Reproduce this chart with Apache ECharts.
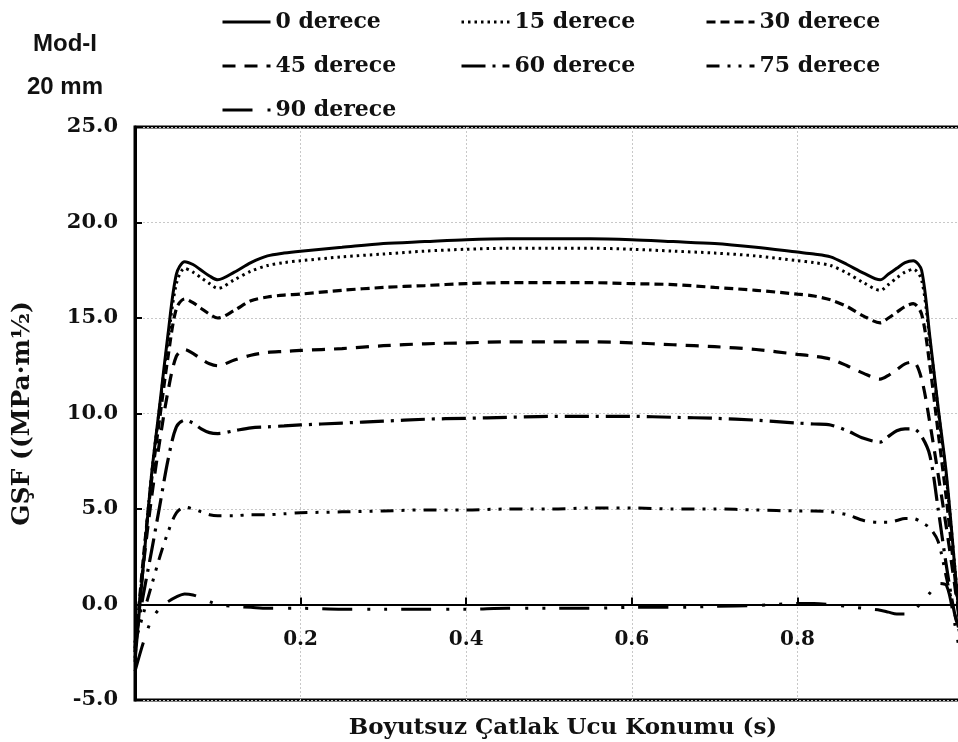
<!DOCTYPE html>
<html>
<head>
<meta charset="utf-8">
<script src="https://cdn.jsdelivr.net/npm/echarts@6/dist/echarts.min.js"></script>
<style>
  html, body { margin: 0; padding: 0; background: #fff; }
  #chart { width: 958px; height: 742px; }
</style>
</head>
<body>
<div id="chart"></div>
<script>
// Dimensionless crack-tip position along the front
const sValues = [0, 0.01, 0.02, 0.03, 0.04, 0.05, 0.06, 0.07, 0.08, 0.09, 0.10, 0.12, 0.14, 0.16, 0.18, 0.20,
  0.25, 0.30, 0.35, 0.40, 0.45, 0.50, 0.55, 0.60, 0.65, 0.70, 0.75, 0.80, 0.82, 0.84, 0.86, 0.88, 0.90,
  0.91, 0.92, 0.93, 0.94, 0.95, 0.96, 0.97, 0.98, 0.99, 1.0];

// Stress intensity factor (MPa·m^1/2) for each crack angle
const deg0 = [-3.0, 2.0, 6.8, 10.5, 14.2, 17.3, 17.95, 17.8, 17.5, 17.2, 17.0, 17.4, 17.9, 18.25, 18.4, 18.5,
  18.7, 18.9, 19.0, 19.1, 19.15, 19.15, 19.15, 19.1, 19.0, 18.9, 18.7, 18.45, 18.35, 18.2, 17.8, 17.35, 17.0,
  17.3, 17.6, 17.9, 18.0, 17.5, 14.0, 10.3, 6.8, 2.0, -3.0];
const deg15 = [-2.8, 2.2, 6.8, 10.4, 13.9, 16.8, 17.6, 17.4, 17.1, 16.8, 16.55, 17.0, 17.45, 17.75, 17.9, 18.0,
  18.2, 18.35, 18.5, 18.6, 18.65, 18.65, 18.65, 18.6, 18.5, 18.4, 18.25, 18.0, 17.9, 17.75, 17.35, 16.85, 16.45,
  16.75, 17.1, 17.4, 17.55, 17.0, 13.8, 10.2, 6.6, 2.0, -2.8];
const deg30 = [-2.5, 2.4, 6.5, 9.8, 13.0, 15.5, 16.0, 15.8, 15.5, 15.2, 15.0, 15.4, 15.9, 16.1, 16.2, 16.25,
  16.45, 16.6, 16.7, 16.8, 16.85, 16.85, 16.85, 16.8, 16.75, 16.6, 16.45, 16.25, 16.15, 15.95, 15.6, 15.1, 14.75,
  15.0, 15.3, 15.6, 15.75, 15.2, 12.5, 9.0, 5.5, 1.5, -2.5];
const deg45 = [-2.3, 2.0, 5.6, 8.6, 11.2, 13.0, 13.35, 13.15, 12.85, 12.6, 12.5, 12.8, 13.05, 13.2, 13.25, 13.3,
  13.4, 13.55, 13.65, 13.7, 13.75, 13.75, 13.75, 13.7, 13.6, 13.5, 13.35, 13.1, 13.0, 12.85, 12.5, 12.1, 11.8,
  12.0, 12.3, 12.6, 12.7, 11.8, 9.5, 6.8, 4.0, 1.0, -2.3];
const deg60 = [-2.0, 0.5, 2.8, 5.2, 7.6, 9.3, 9.65, 9.5, 9.2, 9.0, 8.95, 9.1, 9.25, 9.3, 9.35, 9.4,
  9.5, 9.6, 9.7, 9.75, 9.8, 9.85, 9.85, 9.85, 9.8, 9.75, 9.65, 9.5, 9.45, 9.4, 9.1, 8.7, 8.5,
  8.8, 9.1, 9.2, 9.2, 8.8, 7.8, 5.0, 2.0, -0.5, -2.0];
const deg75 = [-2.0, -0.5, 1.0, 2.5, 3.8, 4.8, 5.1, 5.0, 4.85, 4.7, 4.65, 4.65, 4.7, 4.7, 4.75, 4.8,
  4.85, 4.9, 4.95, 4.95, 5.0, 5.0, 5.05, 5.05, 5.0, 5.0, 4.95, 4.9, 4.9, 4.85, 4.7, 4.4, 4.3,
  4.3, 4.4, 4.5, 4.5, 4.3, 4.0, 3.3, 1.4, -0.5, -2.0];
const deg90 = [-3.5, -2.0, -0.8, -0.2, 0.15, 0.4, 0.55, 0.5, 0.35, 0.15, 0.0, -0.1, -0.15, -0.2, -0.2, -0.2,
  -0.25, -0.25, -0.25, -0.25, -0.2, -0.2, -0.2, -0.15, -0.15, -0.1, -0.05, 0.05, 0.05, 0.0, -0.1, -0.2, -0.3,
  -0.4, -0.5, -0.5, -0.3, 0.1, 0.6, 1.1, 1.0, -1.0, -3.5];

const seriesNames = ['0 derece', '15 derece', '30 derece', '45 derece', '60 derece', '75 derece', '90 derece'];
const seriesValues = [deg0, deg15, deg30, deg45, deg60, deg75, deg90];

// y-axis tick range
const yMin = -5, yMax = 25, yStep = 5;
const xTicks = [0.2, 0.4, 0.6, 0.8];

const serif = 'DejaVu Serif';
const dashes = [
  'solid',
  [2.5, 4],
  [9, 5],
  [13, 9],
  [24, 7, 3, 7],
  [13, 8, 3, 8, 3, 8],
  [30, 15, 3, 14, 3, 14]
];
const widths = [3, 3, 3.2, 3.2, 3.2, 3, 3];

const series = seriesNames.map((name, k) => ({
  name: name,
  type: 'line',
  smooth: 0.3,
  symbol: 'none',
  clip: true,
  data: sValues.map((s, i) => [s, seriesValues[k][i]]),
  lineStyle: { color: '#000', width: widths[k], type: dashes[k], cap: 'butt' },
  itemStyle: { color: '#000' },
  z: 10 - k
}));

const legendBase = {
  orient: 'vertical',
  top: 5,
  itemWidth: 48,
  itemHeight: 14,
  itemGap: 20,
  textStyle: { fontFamily: serif, fontWeight: 'bold', fontSize: 22, color: '#111', lineHeight: 24 },
  itemStyle: { opacity: 0 },
  lineStyle: { width: 3 }
};

const chart = echarts.init(document.getElementById('chart'), null, { renderer: 'canvas' });
chart.setOption({
  animation: false,
  backgroundColor: '#fff',
  title: {
    text: 'Mod-I\n20 mm',
    left: 60,
    top: 18,
    textAlign: 'center',
    textStyle: { fontFamily: 'Liberation Sans', fontWeight: 'bold', fontSize: 24, lineHeight: 43, color: '#111' }
  },
  legend: [
    Object.assign({}, legendBase, { left: 216, data: ['0 derece', '45 derece', '90 derece'] }),
    Object.assign({}, legendBase, { left: 455, data: ['15 derece', '60 derece'] }),
    Object.assign({}, legendBase, { left: 700, data: ['30 derece', '75 derece'] })
  ],
  grid: {
    left: 135, top: 127, right: -5, bottom: 42,
    outerBoundsMode: 'none',
    containLabel: false,
    show: true, borderColor: '#000', borderWidth: 3, backgroundColor: 'transparent'
  },
  xAxis: {
    type: 'value',
    min: 0, max: 1, interval: 0.2,
    name: 'Boyutsuz Çatlak Ucu Konumu (s)',
    nameLocation: 'middle',
    nameGap: 112,
    nameTextStyle: { fontFamily: serif, fontWeight: 'bold', fontSize: 23, color: '#111', padding: [0, 0, 0, 28] },
    axisLine: { show: true, onZero: false, lineStyle: { color: '#000', width: 2 } },
    axisTick: { show: true, inside: true, length: 7, lineStyle: { color: '#000', width: 2 } },
    axisLabel: {
      margin: 25,
      fontFamily: serif, fontWeight: 'bold', fontSize: 20, color: '#111',
      formatter: v => xTicks.some(t => Math.abs(t - v) < 1e-9) ? v.toFixed(1) : ''
    },
    splitLine: { show: true, lineStyle: { color: '#c8c8c8', type: [2, 2], width: 1 } }
  },
  yAxis: {
    type: 'value',
    min: yMin, max: yMax, interval: yStep,
    name: 'GŞF ((MPa·m½)',
    nameLocation: 'middle',
    nameGap: 100,
    nameRotate: 90,
    nameTextStyle: { fontFamily: serif, fontWeight: 'bold', fontSize: 25, color: '#111' },
    axisLine: { show: true, onZero: false, lineStyle: { color: '#000', width: 3 } },
    axisTick: { show: true, inside: true, length: 7, lineStyle: { color: '#000', width: 2 } },
    axisLabel: {
      margin: 17,
      fontFamily: serif, fontWeight: 'bold', fontSize: 21, color: '#111',
      formatter: v => v.toFixed(1)
    },
    splitLine: { show: true, lineStyle: { color: '#c8c8c8', type: [2, 2], width: 1 } }
  },
  series: series
});

// Lift the x axis (line, ticks, labels, name) from the bottom edge to the y = 0 level
const zeroY = chart.convertToPixel({ yAxisIndex: 0 }, 0);
const bottomY = chart.convertToPixel({ yAxisIndex: 0 }, yMin);
chart.setOption({ xAxis: { offset: zeroY - bottomY } });
</script>
</body>
</html>
